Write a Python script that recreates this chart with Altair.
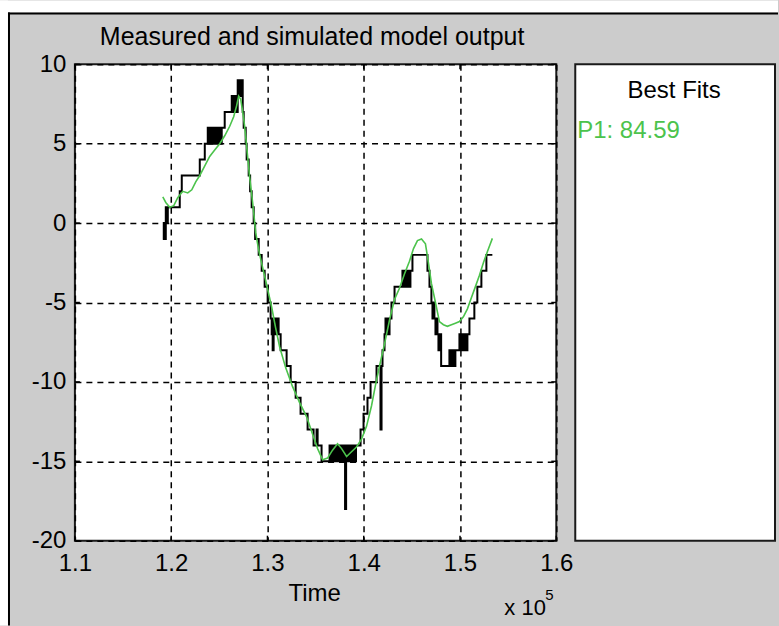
import altair as alt
import pandas as pd

# Time axis is in units of 1e5 (shown with the "x 10^5" multiplier).
# Measured output: a quantised, dithering signal, listed as (time, level) change points.
measured_steps = [
    (1.1913, -1), (1.1923, 0), (1.1934, -1), (1.1944, 1), (1.1954, 0), (1.1965, 1),
    (1.2089, 2), (1.2110, 3), (1.2297, 4), (1.2349, 5),
    (1.2380, 6), (1.2390, 5), (1.2400, 6), (1.2411, 5), (1.2421, 6), (1.2432, 5),
    (1.2442, 6), (1.2452, 5), (1.2463, 6), (1.2473, 5), (1.2483, 6), (1.2494, 5),
    (1.2504, 6), (1.2515, 5), (1.2525, 6),
    (1.2556, 7),
    (1.2629, 8), (1.2639, 7), (1.2649, 8), (1.2660, 7), (1.2670, 8), (1.2680, 7),
    (1.2691, 9), (1.2701, 8), (1.2712, 9), (1.2722, 8), (1.2732, 9),
    (1.2743, 7), (1.2753, 6), (1.2774, 5), (1.2784, 4), (1.2805, 3), (1.2820, 2),
    (1.2836, 1), (1.2857, 0), (1.2872, -1), (1.2909, -2), (1.2940, -3), (1.2971, -4),
    (1.3002, -5),
    (1.3033, -6), (1.3044, -7), (1.3054, -8), (1.3064, -6), (1.3075, -7), (1.3085, -6),
    (1.3095, -7), (1.3106, -6), (1.3116, -7),
    (1.3137, -8), (1.3199, -9), (1.3241, -10), (1.3293, -11), (1.3344, -12),
    (1.3417, -13), (1.3479, -14), (1.3510, -13), (1.3521, -14), (1.3562, -15),
    (1.3645, -14), (1.3656, -15), (1.3666, -14), (1.3676, -15), (1.3687, -14),
    (1.3697, -15), (1.3707, -14), (1.3718, -15), (1.3728, -14), (1.3739, -15),
    (1.3749, -14),
    (1.3770, -15), (1.3790, -14), (1.3806, -18), (1.3817, -14),
    (1.3827, -15), (1.3838, -14), (1.3848, -15), (1.3858, -14), (1.3868, -15),
    (1.3879, -14), (1.3889, -15), (1.3900, -14), (1.3910, -15), (1.3920, -14),
    (1.3967, -13), (1.3998, -12), (1.4039, -11), (1.4071, -10), (1.4133, -9),
    (1.4174, -13), (1.4185, -9), (1.4195, -8),
    (1.4216, -7), (1.4226, -6), (1.4237, -7), (1.4247, -6), (1.4257, -7), (1.4268, -6),
    (1.4288, -5), (1.4320, -4),
    (1.4402, -3), (1.4413, -4), (1.4423, -3), (1.4434, -4), (1.4444, -3), (1.4454, -4),
    (1.4465, -3), (1.4475, -4), (1.4485, -3), (1.4506, -2),
    (1.4662, -3), (1.4683, -4), (1.4703, -5), (1.4714, -6), (1.4724, -5), (1.4734, -6),
    (1.4745, -7), (1.4755, -6), (1.4766, -7), (1.4776, -8), (1.4786, -7), (1.4804, -9),
    (1.4890, -8), (1.4900, -9), (1.4911, -8), (1.4921, -9), (1.4932, -8), (1.4942, -9),
    (1.4952, -8),
    (1.4994, -7), (1.5004, -8), (1.5015, -7), (1.5025, -8), (1.5035, -7), (1.5046, -8),
    (1.5056, -7), (1.5066, -8), (1.5077, -7),
    (1.5098, -6), (1.5149, -5), (1.5180, -4), (1.5222, -3), (1.5274, -2), (1.5336, -2),
]
meas_t = [t for t, _ in measured_steps]
meas_y = [y for _, y in measured_steps]

# Simulated model output (smooth response)
sim_t = [1.1913, 1.1944, 1.1985, 1.2027, 1.2068, 1.2120, 1.2172, 1.2214, 1.2255, 1.2297,
         1.2349, 1.2400, 1.2452, 1.2504, 1.2556, 1.2608, 1.2649, 1.2680, 1.2701, 1.2722,
         1.2743, 1.2763, 1.2784, 1.2815, 1.2846, 1.2878, 1.2909, 1.2950, 1.2992, 1.3044,
         1.3085, 1.3127, 1.3189, 1.3261, 1.3334, 1.3407, 1.3469, 1.3521, 1.3573, 1.3624,
         1.3676, 1.3728, 1.3770, 1.3822, 1.3873, 1.3925, 1.3977, 1.4029, 1.4081, 1.4122,
         1.4164, 1.4216, 1.4268, 1.4320, 1.4371, 1.4423, 1.4475, 1.4517, 1.4558, 1.4600,
         1.4641, 1.4672, 1.4703, 1.4745, 1.4786, 1.4828, 1.4869, 1.4911, 1.4952, 1.4994,
         1.5035, 1.5077, 1.5118, 1.5160, 1.5201, 1.5243, 1.5284, 1.5336]
sim_y = [1.65, 1.3, 1.0, 1.1, 1.6, 2.0, 1.9, 2.1, 2.6, 3.0,
         3.6, 4.2, 4.6, 5.0, 5.5, 6.1, 6.7, 7.4, 8.0, 7.8,
         7.0, 6.1, 4.8, 2.9, 1.3, -0.6, -1.7, -2.8, -3.9, -5.3,
         -6.6, -7.8, -9.1, -10.3, -11.3, -12.2, -13.3, -14.2, -14.9, -14.8,
         -14.3, -13.9, -14.2, -14.7, -14.4, -14.1, -13.6, -12.8, -11.5, -10.2,
         -9.0, -7.6, -6.1, -4.8, -4.1, -3.2, -2.4, -1.6, -1.1, -1.0,
         -1.3, -2.5, -3.8, -5.0, -6.2, -6.4, -6.5, -6.4, -6.3, -6.2,
         -5.9, -5.4, -4.7, -4.0, -3.3, -2.5, -1.8, -0.96]

x_ticks = [1.1, 1.2, 1.3, 1.4, 1.5, 1.6]
y_ticks = [-20, -15, -10, -5, 0, 5, 10]

plot_title = "Measured and simulated model output"
x_title = "Time"
x_multiplier = "x 10"
x_exponent = "5"
fits_title = "Best Fits"
fit_label = "P1: 84.59"

W, H = 482, 477
FONT = "Liberation Sans"
GREEN = "#4cc34c"
FIG_GRAY = "#cccccc"

measured = pd.DataFrame({"t": meas_t, "y": meas_y})
simulated = pd.DataFrame({"t": sim_t, "y": sim_y})
xt = pd.DataFrame({"t": x_ticks})
yt = pd.DataFrame({"y": y_ticks})
one = pd.DataFrame({"k": [0]})

x_scale = alt.Scale(domain=[1.1, 1.6], nice=False, zero=False)
y_scale = alt.Scale(domain=[-20, 10], nice=False, zero=False)

common_axis = dict(
    title=None, domain=False, ticks=False, labelFont=FONT, labelFontSize=24,
    labelColor="black", grid=True, gridColor="black", gridDash=[6, 5],
    gridWidth=1.5, gridOpacity=1, labelFlush=False,
)
x_axis = alt.Axis(values=x_ticks, labelExpr="format(datum.value, '.1f')",
                  labelPadding=11, **common_axis)
y_axis = alt.Axis(values=y_ticks, labelExpr="'' + datum.value",
                  labelPadding=9, **common_axis)

# figure frame: white margin strips on top/left and the dark window edge
strip_top = alt.Chart(one).mark_rect(color="white").encode(
    x=alt.value(-75), x2=alt.value(704), y=alt.value(-64), y2=alt.value(-52))
strip_left = alt.Chart(one).mark_rect(color="white").encode(
    x=alt.value(-75), x2=alt.value(-67), y=alt.value(-64), y2=alt.value(562))
edge_top = alt.Chart(one).mark_rule(color="black", strokeWidth=2).encode(
    x=alt.value(-67), x2=alt.value(704), y=alt.value(-51))
edge_left = alt.Chart(one).mark_rule(color="black", strokeWidth=2).encode(
    x=alt.value(-66), y=alt.value(-52), y2=alt.value(562))

# "Best Fits" side panel
panel = alt.Chart(one).mark_rect(fill="white", stroke="#1a1a1a", strokeWidth=2).encode(
    x=alt.value(501), x2=alt.value(701), y=alt.value(0), y2=alt.value(477))
panel_title = alt.Chart(one).mark_text(font=FONT, fontSize=24, color="black",
                                       align="center", baseline="alphabetic").encode(
    x=alt.value(600), y=alt.value(34), text=alt.value(fits_title))
panel_fit = alt.Chart(one).mark_text(font=FONT, fontSize=24, color=GREEN,
                                     align="left", baseline="alphabetic").encode(
    x=alt.value(503), y=alt.value(74), text=alt.value(fit_label))

# data series
meas_line = alt.Chart(measured).mark_line(
    interpolate="step-after", color="black", strokeWidth=2).encode(
    x=alt.X("t:Q", scale=x_scale, axis=x_axis),
    y=alt.Y("y:Q", scale=y_scale, axis=y_axis),
)
sim_line = alt.Chart(simulated).mark_line(color=GREEN, strokeWidth=1.6).encode(
    x=alt.X("t:Q", scale=x_scale),
    y=alt.Y("y:Q", scale=y_scale),
)

# inward tick marks on all four sides
tick_style = dict(color="black", strokeWidth=1.5)
xtick_bottom = alt.Chart(xt).mark_rule(**tick_style).encode(
    x=alt.X("t:Q", scale=x_scale), y=alt.value(H), y2=alt.value(H - 5))
xtick_top = alt.Chart(xt).mark_rule(**tick_style).encode(
    x=alt.X("t:Q", scale=x_scale), y=alt.value(0), y2=alt.value(5))
ytick_left = alt.Chart(yt).mark_rule(**tick_style).encode(
    y=alt.Y("y:Q", scale=y_scale), x=alt.value(0), x2=alt.value(5))
ytick_right = alt.Chart(yt).mark_rule(**tick_style).encode(
    y=alt.Y("y:Q", scale=y_scale), x=alt.value(W), x2=alt.value(W - 5))

# texts around the axes
title_text = alt.Chart(one).mark_text(font=FONT, fontSize=25, color="black",
                                      align="left", baseline="alphabetic").encode(
    x=alt.value(25), y=alt.value(-19), text=alt.value(plot_title))
time_text = alt.Chart(one).mark_text(font=FONT, fontSize=24, color="black",
                                     align="center", baseline="alphabetic").encode(
    x=alt.value(240), y=alt.value(537), text=alt.value(x_title))
mult_text = alt.Chart(one).mark_text(font=FONT, fontSize=22, color="black",
                                     align="left", baseline="alphabetic").encode(
    x=alt.value(430), y=alt.value(551), text=alt.value(x_multiplier))
exp_text = alt.Chart(one).mark_text(font=FONT, fontSize=15, color="black",
                                    align="left", baseline="alphabetic").encode(
    x=alt.value(471), y=alt.value(536), text=alt.value(x_exponent))

chart = alt.layer(
    strip_top, strip_left, edge_top, edge_left,
    panel, panel_title, panel_fit,
    meas_line, sim_line,
    xtick_bottom, xtick_top, ytick_left, ytick_right,
    title_text, time_text, mult_text, exp_text,
).properties(
    width=W, height=H, padding=0, background=FIG_GRAY,
).configure_view(
    fill="white", stroke="#1a1a1a", strokeWidth=2,
)

chart.save("out.html", embed_options={"renderer": "svg", "actions": False})
